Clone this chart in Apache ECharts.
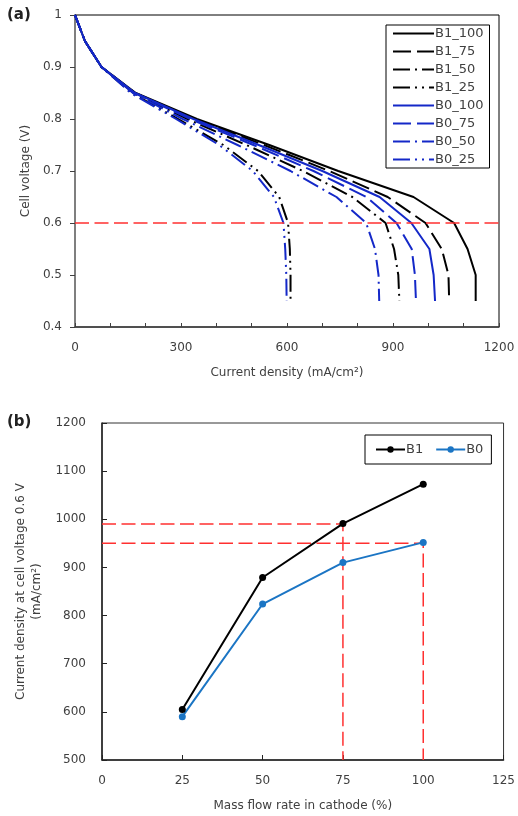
<!DOCTYPE html>
<html>
<head>
<meta charset="utf-8">
<script src="https://cdn.jsdelivr.net/npm/echarts@6/dist/echarts.min.js"></script>
<style>
  html, body { margin: 0; padding: 0; background: #fff; }
  #chart { width: 518px; height: 816px; }
</style>
</head>
<body>
<div id="chart"></div>
<script>
// panel (a): polarization curves, current density (mA/cm2) at each voltage step
var voltage = [1, 0.95, 0.9, 0.85, 0.8, 0.75, 0.7, 0.65, 0.6, 0.55, 0.5, 0.45];
var b1_100 = [0, 28, 75, 172, 345, 550, 745, 958, 1073, 1111, 1134, 1134];
var b1_75  = [0, 28, 75, 170, 338, 535, 720, 885, 992, 1038, 1057, 1059];
var b1_50  = [0, 28, 75, 166, 318, 485, 645, 785, 879, 903, 915, 918];
var b1_25  = [0, 28, 75, 160, 292, 420, 518, 578, 603, 608, 610, 610];
var b0_100 = [0, 28, 75, 170, 335, 520, 700, 862, 952, 1003, 1015, 1019];
var b0_75  = [0, 28, 75, 168, 326, 505, 675, 825, 910, 953, 962, 965];
var b0_50  = [0, 28, 75, 164, 305, 460, 610, 740, 824, 849, 859, 861];
var b0_25  = [0, 28, 75, 158, 286, 408, 503, 563, 590, 595, 598, 599];
var refVoltage = 0.6;

// panel (b): current density at 0.6 V vs cathode mass flow rate
var flowRate = [25, 50, 75, 100];
var b1At06 = [605, 879, 991, 1073];
var b0At06 = [590, 824, 910, 952];
var guideFlows = [75, 100];
var guideLevels = [990, 950];

var BLUE = '#1428c8';
var RED = '#ff3030';
var FONT = 'DejaVu Sans';

function pairs(arr) {
    return voltage.map(function(v, i) { return [arr[i], v]; });
}

function curve(name, arr, color, dash) {
    return {
        name: name,
        type: 'line',
        xAxisIndex: 0,
        yAxisIndex: 0,
        data: pairs(arr),
        symbol: 'none',
        lineStyle: { color: color, width: 2, type: dash },
        itemStyle: { color: color },
        z: 3
    };
}

function guide(flow, level) {
    return {
        type: 'line',
        xAxisIndex: 1,
        yAxisIndex: 1,
        data: [[0, level], [flow, level], [flow, 500]],
        symbol: 'none',
        lineStyle: { color: RED, width: 1.5, type: [14, 5.5] },
        z: 1,
        silent: true
    };
}

var dashed = [18, 6];
var dashDot = [17, 5, 2, 5];
var dashDotDot = [17, 5, 2, 5, 2, 5];

var axisText = { color: '#404040', fontFamily: FONT, fontSize: 12 };

var option = {
    animation: false,
    backgroundColor: '#fff',
    title: [
        { text: '(a)', left: 7, top: 8, padding: 0,
          textStyle: { fontFamily: FONT, fontSize: 15, fontWeight: 'bold', color: '#222' } },
        { text: '(b)', left: 7, top: 415, padding: 0,
          textStyle: { fontFamily: FONT, fontSize: 15, fontWeight: 'bold', color: '#222' } }
    ],
    grid: [
        { left: 75, top: 15, width: 424, height: 312, show: true,
          borderColor: '#000', borderWidth: 1, backgroundColor: 'transparent' },
        { left: 102, top: 423, width: 403, height: 337, show: true,
          borderColor: '#333', borderWidth: 1, backgroundColor: 'transparent' }
    ],
    legend: [
        {
            data: ['B1_100', 'B1_75', 'B1_50', 'B1_25', 'B0_100', 'B0_75', 'B0_50', 'B0_25'],
            orient: 'vertical',
            left: 386, top: 25,
            itemWidth: 41, itemHeight: 14, itemGap: 5,
            padding: [2, 6, 2, 6],
            borderColor: '#000', borderWidth: 1,
            backgroundColor: '#fff',
            itemStyle: { opacity: 0 },
            textStyle: { fontFamily: FONT, fontSize: 13, color: '#404040', padding: [0, 0, 0, -4] }
        },
        {
            data: ['B1', 'B0'],
            orient: 'horizontal',
            left: 365, top: 435,
            itemWidth: 29, itemHeight: 8, itemGap: 12,
            padding: [8, 8, 8, 10],
            borderColor: '#000', borderWidth: 1,
            backgroundColor: '#fff',
            textStyle: { fontFamily: FONT, fontSize: 13, color: '#404040', padding: [0, 0, 0, -4] }
        }
    ],
    xAxis: [
        {
            gridIndex: 0, type: 'value', min: 0, max: 1200, interval: 100,
            name: 'Current density (mA/cm²)', nameLocation: 'middle', nameGap: 40,
            nameTextStyle: axisText,
            axisLine: { onZero: false, lineStyle: { color: '#404040', width: 1.5 } },
            axisTick: { inside: true, length: 4, lineStyle: { color: '#404040' } },
            axisLabel: Object.assign({ margin: 15, formatter: function(v) { return v % 300 === 0 ? String(v) : ''; } }, axisText),
            splitLine: { show: false }
        },
        {
            gridIndex: 1, type: 'value', min: 0, max: 125, interval: 25,
            name: 'Mass flow rate in cathode (%)', nameLocation: 'middle', nameGap: 40,
            nameTextStyle: axisText,
            axisLine: { onZero: false, lineStyle: { color: '#222', width: 1.5 } },
            axisTick: { inside: true, length: 5, lineStyle: { color: '#222' } },
            axisLabel: Object.assign({ margin: 15 }, axisText),
            splitLine: { show: false }
        }
    ],
    yAxis: [
        {
            gridIndex: 0, type: 'value', min: 0.4, max: 1, interval: 0.1,
            name: 'Cell voltage (V)', nameLocation: 'middle', nameGap: 42,
            nameTextStyle: axisText,
            axisLine: { onZero: false, lineStyle: { color: '#7f7f7f', width: 2 } },
            axisTick: { inside: false, length: 5, lineStyle: { color: '#404040' } },
            axisLabel: Object.assign({ margin: 13 }, axisText),
            splitLine: { show: false }
        },
        {
            gridIndex: 1, type: 'value', min: 500, max: 1200, interval: 100,
            name: 'Current density at cell voltage 0.6 V\n(mA/cm²)', nameLocation: 'middle', nameGap: 46,
            nameTextStyle: Object.assign({ lineHeight: 16 }, axisText),
            axisLine: { onZero: false, lineStyle: { color: '#222', width: 1.5 } },
            axisTick: { inside: true, length: 5, lineStyle: { color: '#222' } },
            axisLabel: Object.assign({ margin: 16, formatter: function(v) { return String(v); } }, axisText),
            splitLine: { show: false }
        }
    ],
    series: [
        {
            type: 'line', xAxisIndex: 0, yAxisIndex: 0,
            data: [[0, refVoltage], [1200, refVoltage]],
            symbol: 'none', silent: true, z: 4,
            lineStyle: { color: RED, width: 1.5, type: [14, 5.5] }
        },
        curve('B1_100', b1_100, '#000', 'solid'),
        curve('B1_75', b1_75, '#000', dashed),
        curve('B1_50', b1_50, '#000', dashDot),
        curve('B1_25', b1_25, '#000', dashDotDot),
        curve('B0_100', b0_100, BLUE, 'solid'),
        curve('B0_75', b0_75, BLUE, dashed),
        curve('B0_50', b0_50, BLUE, dashDot),
        curve('B0_25', b0_25, BLUE, dashDotDot),
        guide(guideFlows[0], guideLevels[0]),
        guide(guideFlows[1], guideLevels[1]),
        {
            name: 'B1', type: 'line', xAxisIndex: 1, yAxisIndex: 1,
            data: flowRate.map(function(f, i) { return [f, b1At06[i]]; }),
            symbol: 'circle', symbolSize: 7, z: 3,
            lineStyle: { color: '#000', width: 2 },
            itemStyle: { color: '#000' }
        },
        {
            name: 'B0', type: 'line', xAxisIndex: 1, yAxisIndex: 1,
            data: flowRate.map(function(f, i) { return [f, b0At06[i]]; }),
            symbol: 'circle', symbolSize: 7, z: 3,
            lineStyle: { color: '#1b75c4', width: 2 },
            itemStyle: { color: '#1b75c4' }
        }
    ]
};

var chart = echarts.init(document.getElementById('chart'), null, { renderer: 'canvas' });
chart.setOption(option);
</script>
</body>
</html>
